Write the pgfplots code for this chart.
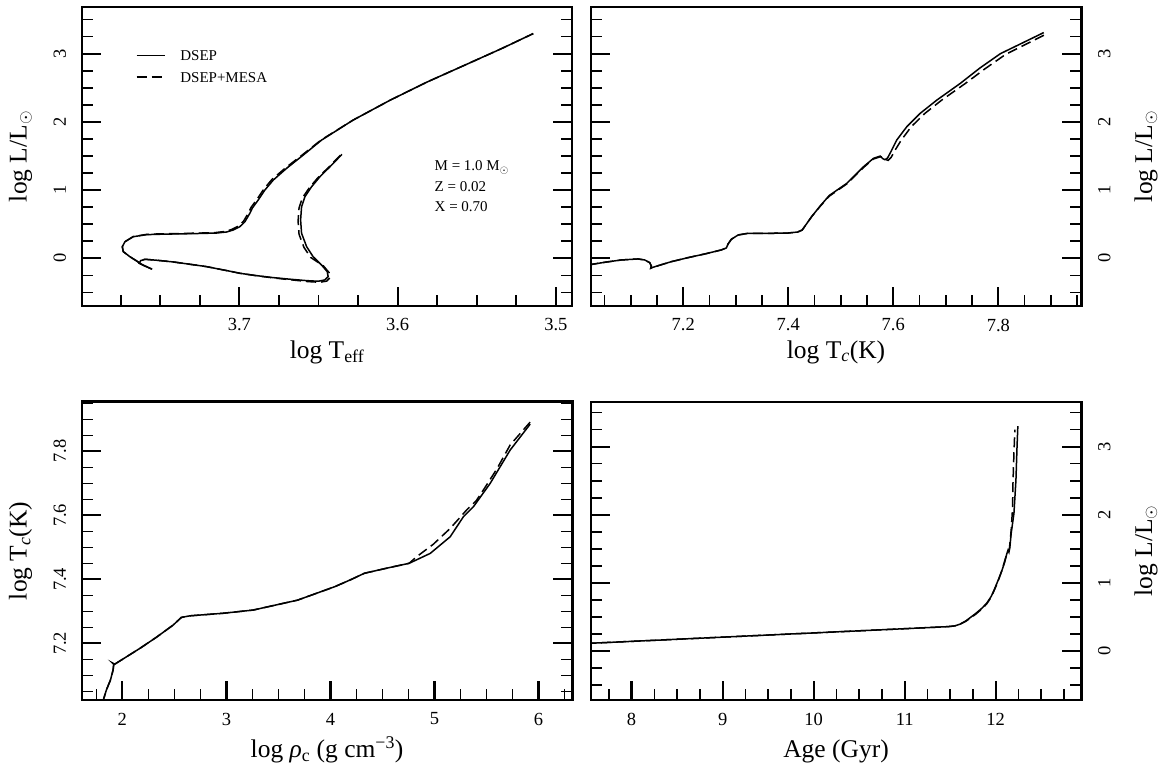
\documentclass[border=0pt]{standalone}
\usepackage{pgfplots}
\pgfplotsset{compat=1.18}
\usepackage{fontspec}
\setmainfont{Liberation Serif}

\pgfplotsset{
  panel/.style={
    scale only axis,
    width=490.5pt, height=299pt,
    anchor=south west,
    tick align=inside,
    xtick pos=left, ytick pos=both,
    axis line style={line width=2.4pt, black},
    major tick length=19pt, minor tick length=11pt,
    major tick style={line width=2.2pt, black},
    minor tick style={line width=1.6pt, black},
    tick label style={font=\fontsize{18.5}{20}\selectfont},
    label style={font=\fontsize{25.5}{28}\selectfont},
    xticklabel style={anchor=center, yshift=-19pt},
    xlabel style={at={(axis description cs:0.5,-0.16)}, anchor=center},
    clip=true,
  },
  leftlab/.style={
    yticklabel style={xshift=-22pt, rotate=90, anchor=center},
    ylabel style={at={(axis description cs:-0.125,0.5)}, anchor=center},
  },
  rightlab/.style={
    yticklabel pos=right,
    yticklabel style={xshift=23pt, rotate=90, anchor=center},
    ylabel style={at={(axis description cs:1.132,0.5)}, anchor=center},
  },
  dsep/.style={black, line width=1.5pt, solid},
  mesa/.style={black, line width=1.5pt, dash pattern=on 10pt off 5pt},
  lumy/.style={
    ytick={0,1,2,3}, yticklabels={0,1,2,3},
    minor ytick={-0.5,-0.25,0.25,0.5,0.75,1.25,1.5,1.75,2.25,2.5,2.75,3.25,3.5},
    ylabel={log L/L$_\odot$},
  },
  tcy/.style={
    ytick={7.2,7.4,7.6,7.8}, yticklabels={7.2,7.4,7.6,7.8},
    minor ytick={7.05,7.1,7.15,7.25,7.3,7.35,7.45,7.5,7.55,7.65,7.7,7.75,7.85,7.9,7.95},
  },
}

\begin{document}
\begin{tikzpicture}
\path[use as bounding box] (0pt,0pt) rectangle (1159pt,-770pt);

% ---------------- Top left: HR diagram ----------------
\begin{axis}[panel, leftlab, lumy,
  at={(81.8pt,-306pt)},
  x dir=reverse, xmin=3.4896, xmax=3.7996, ymin=-0.70, ymax=3.684,
  xtick={3.5,3.6,3.7}, xticklabels={3.5,3.6,3.7},
  minor xtick={3.525,3.55,3.575,3.625,3.65,3.675,3.725,3.75,3.775},
  xlabel={log T\textsubscript{eff}},
  xlabel style={at={(axis description cs:0.5,-0.155)}},
  legend style={draw=none, fill=none, at={(axis description cs:0.1098,0.876)},
    anchor=north west, inner sep=0pt, row sep=0pt, column sep=15pt,
    font=\fontsize{15}{18}\selectfont,
    nodes={inner sep=0pt, text height=10.5pt, text depth=0pt, minimum height=21.7pt},
    cells={anchor=base west}},
  legend image code/.code={\draw[#1] (0pt,5.1pt) -- (28pt,5.1pt);},
]
\addplot[dsep] coordinates {
(3.6352,1.523) (3.6428,1.341) (3.6491,1.195) (3.6544,1.048) (3.6586,0.902)
(3.6607,0.755) (3.6613,0.561) (3.6607,0.366) (3.6575,0.170) (3.6534,0.023)
(3.6481,-0.098) (3.6445,-0.196) (3.6439,-0.269) (3.6460,-0.318) (3.6502,-0.337)
(3.6575,-0.328) (3.6681,-0.307) (3.6786,-0.284) (3.6891,-0.255) (3.6997,-0.220)
(3.7060,-0.190) (3.7207,-0.123) (3.7313,-0.088) (3.7418,-0.054) (3.7523,-0.029)
(3.7597,-0.015) (3.7624,-0.035) (3.7633,-0.073) (3.7597,-0.113) (3.7551,-0.161)
(3.7610,-0.100) (3.7649,-0.040) (3.7692,0.023) (3.7734,0.097) (3.7740,0.170)
(3.7723,0.243) (3.7671,0.316) (3.7586,0.346) (3.7523,0.351) (3.7418,0.356)
(3.7313,0.360) (3.7207,0.366) (3.7144,0.370) (3.7081,0.385) (3.7039,0.414)
(3.6997,0.463) (3.6965,0.536) (3.6934,0.659) (3.6918,0.736) (3.6881,0.854)
(3.6839,1.000) (3.6786,1.146) (3.6702,1.318) (3.6597,1.512) (3.6481,1.732)
(3.6282,2.025) (3.6047,2.318) (3.5812,2.586) (3.5577,2.830) (3.5342,3.075)
(3.5143,3.294)
};
\addlegendentry{DSEP}
\addplot[mesa] coordinates {
(3.6362,1.510) (3.6440,1.325) (3.6505,1.178) (3.6559,1.030) (3.6602,0.884)
(3.6623,0.737) (3.6629,0.545) (3.6623,0.352) (3.6592,0.160) (3.6550,0.013)
(3.6469,-0.112) (3.6433,-0.210) (3.6427,-0.284) (3.6448,-0.335) (3.6492,-0.352)
(3.6568,-0.342) (3.6678,-0.315) (3.6786,-0.288) (3.6891,-0.257) (3.6997,-0.220)
(3.7060,-0.190) (3.7207,-0.123) (3.7313,-0.088) (3.7418,-0.054) (3.7523,-0.029)
(3.7597,-0.015) (3.7624,-0.035) (3.7633,-0.073) (3.7597,-0.113) (3.7551,-0.161)
(3.7610,-0.100) (3.7649,-0.040) (3.7692,0.023) (3.7734,0.097) (3.7740,0.170)
(3.7723,0.243) (3.7671,0.318) (3.7586,0.350) (3.7523,0.356) (3.7418,0.361)
(3.7313,0.366) (3.7207,0.372) (3.7150,0.377) (3.7089,0.393) (3.7047,0.424)
(3.7005,0.473) (3.6973,0.546) (3.6942,0.669) (3.6926,0.746) (3.6889,0.864)
(3.6847,1.010) (3.6794,1.156) (3.6708,1.326) (3.6601,1.518) (3.6483,1.735)
(3.6282,2.025) (3.6047,2.318) (3.5812,2.586) (3.5577,2.830) (3.5342,3.075)
(3.5143,3.294)
};
\addlegendentry{DSEP+MESA}
\node[anchor=base west, font=\fontsize{15}{18}\selectfont] at (axis description cs:0.7123,0.452) {M = 1.0 M$_\odot$};
\node[anchor=base west, font=\fontsize{15}{18}\selectfont] at (axis description cs:0.7123,0.382) {Z = 0.02};
\node[anchor=base west, font=\fontsize{15}{18}\selectfont] at (axis description cs:0.7123,0.315) {X = 0.70};
\end{axis}

% ---------------- Top right: log Tc vs log L ----------------
\begin{axis}[panel, rightlab, lumy,
  at={(590.8pt,-306pt)},
  xmin=7.024, xmax=7.958, ymin=-0.70, ymax=3.684,
  xtick={7.2,7.4,7.6,7.8}, xticklabels={7.2,7.4,7.6,7.8},
  minor xtick={7.05,7.1,7.15,7.25,7.3,7.35,7.45,7.5,7.55,7.65,7.7,7.75,7.85,7.9,7.95},
  xlabel={log T\textsubscript{\textit{c}}(K)},
  xlabel style={at={(axis description cs:0.5,-0.154)}},
]
\addplot[dsep] coordinates {
(7.019,-0.098) (7.0505,-0.059) (7.082,-0.025) (7.1139,-0.010) (7.1267,-0.025)
(7.1362,-0.064) (7.1392,-0.113) (7.1381,-0.146) (7.1425,-0.132) (7.1773,-0.050)
(7.2091,0.009) (7.241,0.063) (7.2726,0.122) (7.2821,0.151) (7.2853,0.209)
(7.2916,0.278) (7.3044,0.341) (7.3234,0.366) (7.3678,0.366) (7.3996,0.370)
(7.4180,0.385) (7.4265,0.414) (7.4444,0.609) (7.4600,0.760) (7.4780,0.920)
(7.5114,1.098) (7.5431,1.341) (7.5621,1.464) (7.5749,1.498) (7.5800,1.460)
(7.5840,1.445) (7.5890,1.470) (7.5937,1.537) (7.6064,1.732) (7.6255,1.927)
(7.6509,2.123) (7.6827,2.318) (7.7272,2.562) (7.7650,2.790) (7.8040,3.000)
(7.8865,3.309)
};
\addplot[mesa] coordinates {
(7.019,-0.098) (7.0505,-0.059) (7.082,-0.025) (7.1139,-0.010) (7.1267,-0.025)
(7.1362,-0.064) (7.1392,-0.113) (7.1381,-0.146) (7.1425,-0.132) (7.1773,-0.050)
(7.2091,0.009) (7.241,0.063) (7.2726,0.122) (7.2821,0.151) (7.2853,0.209)
(7.2916,0.278) (7.3044,0.341) (7.3234,0.366) (7.3678,0.366) (7.3996,0.370)
(7.4180,0.385) (7.4265,0.414) (7.4444,0.609) (7.4600,0.755) (7.4780,0.910)
(7.5114,1.090) (7.5431,1.330) (7.5621,1.455) (7.5760,1.490) (7.5850,1.450)
(7.5900,1.435) (7.5960,1.480) (7.6030,1.580) (7.6150,1.730) (7.6340,1.927)
(7.6600,2.123) (7.6920,2.318) (7.7370,2.562) (7.7750,2.780) (7.8140,2.990)
(7.8920,3.290)
};
\end{axis}

% ---------------- Bottom left: log rho_c vs log Tc ----------------
\begin{axis}[panel, leftlab, tcy,
  at={(81.8pt,-700pt)}, height=298.3pt,
  xmin=1.61, xmax=6.325, ymin=7.023, ymax=7.955,
  xtick={2,3,4,5,6}, xticklabels={2,3,4,5,6},
  minor xtick={1.75,2.25,2.5,2.75,3.25,3.5,3.75,4.25,4.5,4.75,5.25,5.5,5.75,6.25},
  xlabel={log \textit{ρ}\textsubscript{c} (g cm\textsuperscript{−3})},
  ylabel={log T\textsubscript{\textit{c}}(K)},
  xlabel style={at={(axis description cs:0.5,-0.168)}},
]
\addplot[dsep] coordinates {
(1.808,7.0134) (1.846,7.054) (1.885,7.085) (1.911,7.117) (1.917,7.135)
(1.904,7.139) (1.927,7.135) (2.167,7.184) (2.327,7.219) (2.4875,7.257)
(2.567,7.281) (2.648,7.286) (2.968,7.294) (3.257,7.304) (3.684,7.335)
(4.041,7.377) (4.189,7.398) (4.327,7.419) (4.577,7.4375) (4.756,7.450)
(4.959,7.481) (5.151,7.533) (5.279,7.596) (5.375,7.627) (5.536,7.700)
(5.728,7.804) (5.920,7.885)
};
\addplot[mesa] coordinates {
(1.808,7.0134) (1.846,7.054) (1.885,7.085) (1.911,7.117) (1.917,7.135)
(1.904,7.139) (1.927,7.135) (2.167,7.184) (2.327,7.219) (2.4875,7.257)
(2.567,7.281) (2.648,7.286) (2.968,7.294) (3.257,7.304) (3.684,7.335)
(4.041,7.377) (4.189,7.398) (4.327,7.419) (4.577,7.4375) (4.756,7.450)
(4.830,7.471) (4.990,7.510) (5.151,7.559) (5.310,7.617) (5.400,7.645)
(5.470,7.679) (5.600,7.745) (5.728,7.820) (5.930,7.895)
};
\end{axis}

% ---------------- Bottom right: Age vs log L ----------------
\begin{axis}[panel, rightlab, lumy,
  at={(590.8pt,-700pt)}, height=298.3pt,
  xmin=7.552, xmax=12.94, ymin=-0.72, ymax=3.66,
  xtick={8,9,10,11,12}, xticklabels={8,9,10,11,12},
  minor xtick={7.75,8.25,8.5,8.75,9.25,9.5,9.75,10.25,10.5,10.75,11.25,11.5,11.75,12.25,12.5,12.75},
  xlabel={Age (Gyr)},
  xlabel style={at={(axis description cs:0.5,-0.173)}},
]
\addplot[dsep] coordinates {
(7.50,0.110) (9.0,0.203) (10.0,0.265) (11.0,0.327) (11.473,0.357)
(11.55,0.368) (11.61,0.395) (11.67,0.440) (11.72,0.490) (11.78,0.550)
(11.85,0.630) (11.90,0.700) (11.95,0.800) (11.99,0.920) (12.03,1.050)
(12.07,1.190) (12.10,1.310) (12.12,1.420) (12.135,1.480) (12.145,1.450)
(12.155,1.520) (12.17,1.730) (12.20,2.020) (12.222,2.510) (12.234,3.000)
(12.243,3.300)
};
\addplot[mesa] coordinates {
(7.50,0.110) (9.0,0.203) (10.0,0.265) (11.0,0.327) (11.473,0.357)
(11.55,0.368) (11.61,0.395) (11.67,0.435) (11.72,0.480) (11.78,0.540)
(11.85,0.620) (11.90,0.690) (11.95,0.790) (11.99,0.910) (12.03,1.040)
(12.07,1.190) (12.10,1.330) (12.13,1.460) (12.15,1.500) (12.17,1.780)
(12.185,2.100) (12.19,2.500) (12.20,2.900) (12.21,3.250)
};
\end{axis}
\end{tikzpicture}
\end{document}
